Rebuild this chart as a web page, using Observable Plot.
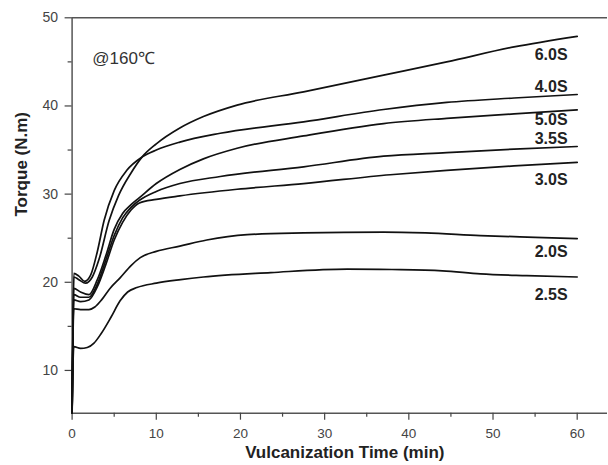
<!DOCTYPE html>
<html>
<head>
<meta charset="utf-8">
<script src="https://cdn.jsdelivr.net/npm/d3@7"></script>
<script src="https://cdn.jsdelivr.net/npm/@observablehq/plot@0.6"></script>
<style>
  html, body { margin: 0; padding: 0; background: white; }
</style>
</head>
<body>
<div id="chart"></div>
<script>
// Series names (sulfur loading)
const seriesNames = ["6.0S", "4.0S", "5.0S", "3.5S", "3.0S", "2.0S", "2.5S"];

// Time (min) and torque (N.m) readings per series
const t60 = [0, 0.2, 0.8, 1.6, 2.4, 3.2, 4.4, 5.5, 7.0, 8.3, 10, 12.8, 15.6, 19.6, 27.5, 37, 44.5, 52.5, 60];
const v60 = [5.2, 20.6, 20.3, 19.9, 20.6, 22.6, 27.0, 29.8, 32.4, 34.2, 35.7, 37.5, 38.8, 40.1, 41.6, 43.5, 45.0, 46.7, 47.9];

const t40 = [0, 0.2, 0.8, 1.5, 2.2, 3.0, 3.8, 5.0, 6.5, 8.3, 10, 12.8, 17.6, 27.5, 37, 44.5, 52.5, 60];
const v40 = [5.2, 21.0, 20.7, 20.1, 20.8, 23.5, 27.0, 30.4, 32.7, 34.2, 35.0, 35.9, 36.9, 38.2, 39.6, 40.4, 40.9, 41.3];

const t50 = [0, 0.2, 1, 2, 3, 4, 5, 6, 7, 8, 10, 12.8, 15.6, 19.6, 27.5, 37, 44.5, 52.5, 60];
const v50 = [5.2, 19.3, 18.9, 18.6, 20.3, 23.0, 26.0, 27.8, 28.8, 29.6, 31.2, 32.8, 34.0, 35.2, 36.6, 38.0, 38.6, 39.1, 39.55];

const t35 = [0, 0.2, 1, 2, 3, 4, 5, 6, 7, 8, 10, 12.8, 17.6, 27.5, 37, 44.5, 52.5, 60];
const v35 = [5.2, 18.6, 18.3, 18.3, 19.8, 22.5, 25.3, 27.3, 28.5, 29.3, 30.3, 31.2, 32.0, 33.1, 34.3, 34.7, 35.1, 35.4];

const t30 = [0, 0.2, 1, 2, 3, 4, 5, 6, 7, 8, 10, 12.8, 19.6, 27.5, 37.8, 44.5, 52.5, 60];
const v30 = [5.2, 18.0, 17.8, 18.0, 19.5, 22.0, 24.8, 26.8, 28.2, 29.0, 29.4, 29.8, 30.55, 31.2, 32.2, 32.7, 33.2, 33.6];

const t20 = [0, 0.2, 1, 2, 2.7, 3.5, 4.5, 5.7, 7, 8.1, 10, 12.8, 16, 20.8, 27.5, 37, 42, 48.5, 55, 60];
const v20 = [5.2, 17.0, 16.9, 16.9, 17.2, 18.0, 19.3, 20.5, 21.9, 22.8, 23.5, 24.1, 24.8, 25.4, 25.6, 25.7, 25.6, 25.3, 25.1, 24.95];

const t25 = [0, 0.2, 1, 1.8, 2.6, 3.4, 4.6, 5.7, 6.6, 7.7, 10, 12.9, 15.6, 23.6, 32.7, 38, 44, 48.5, 54, 60];
const v25 = [5.2, 12.7, 12.5, 12.6, 13.1, 14.1, 16.0, 17.9, 18.9, 19.4, 19.9, 20.3, 20.6, 21.1, 21.5, 21.45, 21.3, 20.95, 20.75, 20.6];

// Label positions (data coords)
const labelX = [56.9, 56.9, 56.9, 56.9, 56.9, 56.9, 56.9];
const labelY = [45.8, 42.2, 38.45, 36.25, 31.6, 23.45, 18.55];

// Axis ticks
const xMajor = [0, 10, 20, 30, 40, 50, 60];
const xMinor = [5, 15, 25, 35, 45, 55];
const yMajor = [10, 20, 30, 40, 50];
const yMinor = [15, 25, 35, 45];

const tArrays = [t60, t40, t50, t35, t30, t20, t25];
const vArrays = [v60, v40, v50, v35, v30, v20, v25];
const rows = [];
seriesNames.forEach((s, i) => tArrays[i].forEach((t, j) => rows.push({s, t, v: vArrays[i][j]})));
const labels = seriesNames.map((s, i) => ({s, x: labelX[i], y: labelY[i]}));

const X0 = 0, X1 = 63.6, Y0 = 5.15, Y1 = 50;
const axisColor = "#555";
const font = "'Liberation Sans', Arial, sans-serif";

const chart = Plot.plot({
  width: 608,
  height: 465,
  marginLeft: 71.6,
  marginRight: 1,
  marginTop: 17.3,
  marginBottom: 52.3,
  x: {domain: [X0, X1]},
  y: {domain: [Y0, Y1]},
  style: {fontFamily: font, background: "white"},
  marks: [
    Plot.ruleY([Y1], {stroke: axisColor, strokeWidth: 1.5}),
    Plot.ruleY([Y0], {stroke: axisColor, strokeWidth: 1.5}),
    Plot.ruleX([X0], {stroke: axisColor, strokeWidth: 1.5}),
    Plot.axisY({ticks: yMajor, tickSize: 7, tickPadding: 7, fontSize: 14, color: "#444", label: null, strokeWidth: 1.2}),
    Plot.axisY({ticks: yMinor, tickSize: 4, text: null, color: "#444", label: null, strokeWidth: 1.2}),
    Plot.axisX({ticks: xMajor, tickSize: 7, tickPadding: 8, fontSize: 13.5, color: "#444", label: null, strokeWidth: 1.2}),
    Plot.axisX({ticks: xMinor, tickSize: 4, text: null, color: "#444", label: null, strokeWidth: 1.2}),
    Plot.line(rows, {x: "t", y: "v", z: "s", stroke: "#111", strokeWidth: 1.7, curve: "monotone-x"}),
    Plot.text(labels, {x: "x", y: "y", text: "s", fontSize: 16, fontWeight: "bold", fill: "#222", textAnchor: "middle"}),
    Plot.text(["@160℃"], {x: 2.4, y: 45.4, textAnchor: "start", fontSize: 17, fill: "#333"}),
    Plot.text(["Torque (N.m)"], {frameAnchor: "left", dx: -51, dy: 1, rotate: -90, fontSize: 17, fontWeight: "bold", fill: "#222"}),
    Plot.text(["Vulcanization Time (min)"], {frameAnchor: "bottom", dx: 5, dy: 45, fontSize: 17, fontWeight: "bold", fill: "#222"})
  ]
});
document.getElementById("chart").appendChild(chart);
</script>
</body>
</html>
